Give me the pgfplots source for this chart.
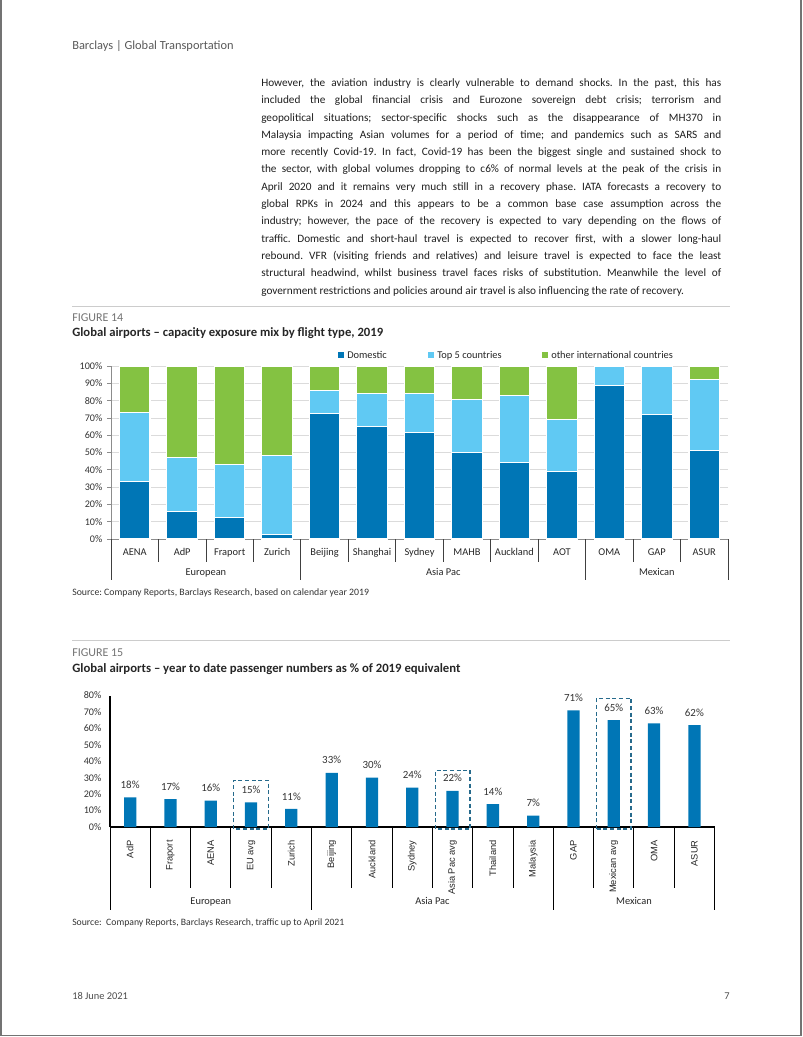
\documentclass[border=0pt]{standalone}
\usepackage{pgfplots}
\pgfplotsset{compat=1.18}
\usepackage{fontspec}
\setmainfont{Carlito}
\newfontfamily\arialf{Liberation Sans}
\definecolor{dom}{RGB}{0,118,182}
\definecolor{topfive}{RGB}{96,201,243}
\definecolor{othint}{RGB}{132,194,66}
\definecolor{boxc}{RGB}{38,106,140}
\newcommand{\bl}[1]{\makebox[345pt][s]{#1}}
\frenchspacing
\begin{document}
\begin{tikzpicture}[x=0.75pt,y=-0.75pt]
\path[use as bounding box] (0,0) rectangle (802,1037);
\draw[black!55, line width=0.9pt] (1,0) -- (1,1035.5) -- (801,1035.5) -- (801,0);
% header
\node[anchor=base west, inner sep=0, font=\fontsize{9.3}{10}\selectfont, text=black!65] at (72,50) {Barclays | Global Transportation};
% body
\begin{scope}[every node/.style={anchor=base west, inner sep=0, font=\fontsize{8.45}{10}\selectfont, text=black!88}]
\node at (261,86.5) {\bl{However, the aviation industry is clearly vulnerable to demand shocks. In the past, this has}};
\node at (261,103.8) {\bl{included the global financial crisis and Eurozone sovereign debt crisis; terrorism and}};
\node at (261,121.1) {\bl{geopolitical situations; sector-specific shocks such as the disappearance of MH370 in}};
\node at (261,138.4) {\bl{Malaysia impacting Asian volumes for a period of time; and pandemics such as SARS and}};
\node at (261,155.7) {\bl{more recently Covid-19. In fact, Covid-19 has been the biggest single and sustained shock to}};
\node at (261,173.0) {\bl{the sector, with global volumes dropping to c6\% of normal levels at the peak of the crisis in}};
\node at (261,190.3) {\bl{April 2020 and it remains very much still in a recovery phase. IATA forecasts a recovery to}};
\node at (261,207.6) {\bl{global RPKs in 2024 and this appears to be a common base case assumption across the}};
\node at (261,224.9) {\bl{industry; however, the pace of the recovery is expected to vary depending on the flows of}};
\node at (261,242.2) {\bl{traffic. Domestic and short-haul travel is expected to recover first, with a slower long-haul}};
\node at (261,259.5) {\bl{rebound. VFR (visiting friends and relatives) and leisure travel is expected to face the least}};
\node at (261,276.8) {\bl{structural headwind, whilst business travel faces risks of substitution. Meanwhile the level of}};
\node at (261,294.1) {government restrictions and policies around air travel is also influencing the rate of recovery.};
\end{scope}
% figure 14 header
\draw[black!20, line width=0.75pt] (72,306.5) -- (730,306.5);
\node[anchor=base west, inner sep=0, font=\fontsize{9}{10}\selectfont, text=black!55] at (72,321) {FIGURE 14};
\node[anchor=base west, inner sep=0, font=\bfseries\fontsize{9.5}{10}\selectfont, text=black!85] at (72,336.5) {Global airports -- capacity exposure mix by flight type, 2019};
% legend
\begin{scope}[every node/.style={anchor=base west, inner sep=0, font=\fontsize{7.8}{9}\selectfont, text=black!85}]
\fill[dom] (338,352) rectangle (344,358);
\node at (347,358.5) {Domestic};
\fill[topfive] (428,352) rectangle (434,358);
\node at (437,358.5) {Top 5 countries};
\fill[othint] (542,352) rectangle (548,358);
\node at (551,358.5) {other international countries};
\end{scope}
\begin{axis}[
  at={(111*0.75pt,-539*0.75pt)}, anchor=south west,
  scale only axis, width=462.75pt, height=129.75pt,
  ybar stacked, bar width=22.9pt,
  xmin=-0.5, xmax=12.5, ymin=0, ymax=100,
  axis lines=left, axis line style={-, black!45, line width=0.6pt},
  ytick={0,10,...,100},
  yticklabels={0\%,10\%,20\%,30\%,40\%,50\%,60\%,70\%,80\%,90\%,100\%},
  ymajorgrids, grid style={black!14, line width=0.6pt},
  tick align=outside, major tick length=3pt,
  ytick style={black!45, line width=0.6pt},
  xtick={0,...,12}, x tick style={draw=none},
  xticklabels={AENA,AdP,Fraport,Zurich,Beijing,Shanghai,Sydney,MAHB,Auckland,AOT,OMA,GAP,ASUR},
  xticklabel style={font=\fontsize{7.8}{9}\selectfont, text=black!85, anchor=base, yshift=-9.5pt},
  yticklabel style={font=\fontsize{7.6}{9}\selectfont, text=black!80},
  clip=false,
]
\addplot[fill=dom, draw=white, line width=0.8pt] coordinates {(0,33) (1,15.7) (2,12.3) (3,2.7) (4,72.8) (5,65.1) (6,61.3) (7,50.2) (8,44.4) (9,39.1) (10,88.7) (11,72) (12,51.3)};
\addplot[fill=topfive, draw=white, line width=0.8pt] coordinates {(0,40) (1,31.6) (2,30.8) (3,45.6) (4,12.8) (5,19.2) (6,22.6) (7,30.3) (8,38.6) (9,29.9) (10,11.3) (11,28) (12,40.7)};
\addplot[fill=othint, draw=white, line width=0.8pt] coordinates {(0,27) (1,52.7) (2,56.9) (3,51.7) (4,14.4) (5,15.7) (6,16.1) (7,19.5) (8,17) (9,31) (10,0) (11,0) (12,8)};
\pgfplotsinvokeforeach{0.5,1.5,2.5,4.5,5.5,6.5,7.5,8.5,10.5,11.5}{
  \draw[black!75, line width=0.6pt] (axis cs:#1,0) -- ++(0pt,-17.25pt);
}
\pgfplotsinvokeforeach{-0.5,3.5,9.5,12.5}{
  \draw[black!75, line width=0.6pt] (axis cs:#1,0) -- ++(0pt,-30.75pt);
}
\node[anchor=base, inner sep=0, font=\fontsize{7.8}{9}\selectfont, text=black!85] at ([yshift=-27.5pt]axis cs:1.5,0) {European};
\node[anchor=base, inner sep=0, font=\fontsize{7.8}{9}\selectfont, text=black!85] at ([yshift=-27.5pt]axis cs:6.5,0) {Asia Pac};
\node[anchor=base, inner sep=0, font=\fontsize{7.8}{9}\selectfont, text=black!85] at ([yshift=-27.5pt]axis cs:11,0) {Mexican};
\end{axis}
\node[anchor=base west, inner sep=0, font=\fontsize{7.35}{8}\selectfont, text=black!80] at (72,595) {Source: Company Reports, Barclays Research, based on calendar year 2019};
% figure 15 header
\draw[black!20, line width=0.75pt] (72,640.5) -- (730,640.5);
\node[anchor=base west, inner sep=0, font=\fontsize{9}{10}\selectfont, text=black!55] at (72,656) {FIGURE 15};
\node[anchor=base west, inner sep=0, font=\bfseries\fontsize{9.55}{10}\selectfont, text=black!85] at (72,672) {Global airports -- year to date passenger numbers as \% of 2019 equivalent};
\begin{axis}[
  at={(110*0.75pt,-827*0.75pt)}, anchor=south west,
  scale only axis, width=453.4pt, height=98.6pt,
  ybar, bar width=9.2pt, bar shift=0pt,
  xmin=-0.5, xmax=14.5, ymin=0, ymax=80,
  axis lines=left, axis line style={-, black, line width=0.9pt},
  ytick={0,10,...,80},
  yticklabels={0\%,10\%,20\%,30\%,40\%,50\%,60\%,70\%,80\%},
  major tick length=0pt,
  xtick={0,...,14},
  xticklabels={AdP,Fraport,AENA,EU avg,Zurich,Beijing,Auckland,Sydney,Asia Pac avg,Thailand,Malaysia,GAP,Mexican avg,OMA,ASUR},
  xticklabel shift=6.5pt,
  xticklabel style={rotate=90, anchor=east, font=\arialf\fontsize{7}{8}\selectfont, text=black!85},
  yticklabel style={font=\fontsize{7.6}{9}\selectfont, text=black!80, xshift=-3pt},
  nodes near coords={\pgfmathprintnumber[assume math mode=true]{\pgfplotspointmeta}\%},
  every node near coord/.append style={font=\fontsize{8.2}{9}\selectfont, text=black!80, anchor=south, inner sep=0, yshift=6.4pt},
  clip=false,
]
\addplot[fill=dom, draw=none] coordinates {(0,18) (1,17) (2,16) (3,15) (4,11) (5,33) (6,30) (7,24) (8,22) (9,14) (10,7) (11,71) (12,65) (13,63) (14,62)};
\pgfplotsinvokeforeach{0.5,1.5,2.5,3.5,5.5,6.5,7.5,8.5,9.5,11.5,12.5,13.5}{
  \draw[black, line width=0.75pt] (axis cs:#1,0) -- ++(0pt,-45.75pt);
}
\pgfplotsinvokeforeach{-0.5,4.5,10.5,14.5}{
  \draw[black, line width=0.75pt] (axis cs:#1,0) -- ++(0pt,-62.25pt);
}
\draw[boxc, line width=1pt, dash pattern=on 3pt off 2pt] (axis cs:2.57,-1.2) rectangle (axis cs:3.43,28.4);
\draw[boxc, line width=1pt, dash pattern=on 3pt off 2pt] (axis cs:7.57,-1.2) rectangle (axis cs:8.43,34.5);
\draw[boxc, line width=1pt, dash pattern=on 3pt off 2pt] (axis cs:11.57,-1.2) rectangle (axis cs:12.43,78.4);
\node[anchor=base, inner sep=0, font=\fontsize{7.8}{9}\selectfont, text=black!85] at ([yshift=-58pt]axis cs:2,0) {European};
\node[anchor=base, inner sep=0, font=\fontsize{7.8}{9}\selectfont, text=black!85] at ([yshift=-58pt]axis cs:7.5,0) {Asia Pac};
\node[anchor=base, inner sep=0, font=\fontsize{7.8}{9}\selectfont, text=black!85] at ([yshift=-58pt]axis cs:12.5,0) {Mexican};
\end{axis}
\node[anchor=base west, inner sep=0, font=\fontsize{7.3}{8}\selectfont, text=black!80] at (72,925) {Source:\ \ Company Reports, Barclays Research, traffic up to April 2021};
% footer
\node[anchor=base west, inner sep=0, font=\fontsize{7.8}{9}\selectfont, text=black!70] at (72,999) {18 June 2021};
\node[anchor=base east, inner sep=0, font=\fontsize{7.8}{9}\selectfont, text=black!70] at (730,999) {7};
\end{tikzpicture}
\end{document}
